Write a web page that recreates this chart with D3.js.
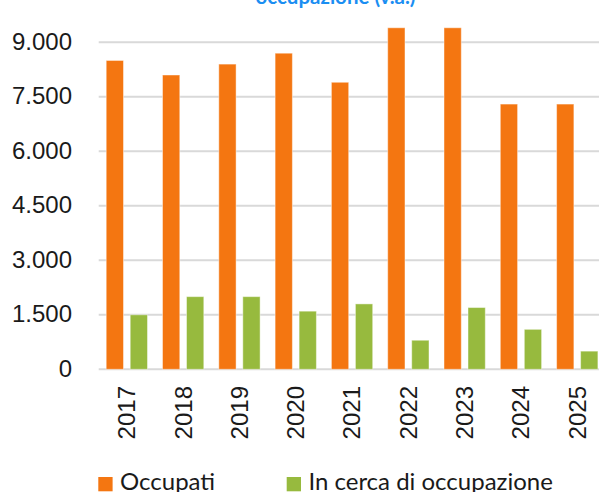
<!DOCTYPE html>
<html>
<head>
<meta charset="utf-8">
<script src="https://cdn.jsdelivr.net/npm/d3@7"></script>
<style>
  html, body { margin: 0; padding: 0; background: #fff; overflow: hidden; }
  svg { display: block; }
</style>
</head>
<body>
<svg id="chart" width="599" height="492"></svg>
<script>
const years = ["2017","2018","2019","2020","2021","2022","2023","2024","2025"];
const occupati = [8500, 8100, 8400, 8700, 7900, 9400, 9400, 7300, 7300];
const inCerca = [1500, 2000, 2000, 1600, 1800, 800, 1700, 1100, 500];
const seriesNames = ["Occupati", "In cerca di occupazione"];
const seriesColors = ["#F47611", "#97BA3E"];
const yTicks = [0, 1500, 3000, 4500, 6000, 7500, 9000];
const titleText = "occupazione (v.a.)";

const svg = d3.select("#chart");
const W = 599, H = 492;
const plotLeft = 98.7, step = 56.3;

const x0 = d3.scaleBand().domain(years).range([plotLeft, plotLeft + step * years.length]).padding(0);
const x1 = d3.scaleBand().domain([0, 1]).range([7.5, step - 7.5]).paddingInner(0.28).paddingOuter(0);
const y = d3.scaleLinear().domain([0, 9000]).range([369.3, 42.3]);

const fmt = v => d3.format(",")(v).replace(/,/g, ".");

// title (partially visible)
svg.append("text")
  .attr("x", 335.5).attr("y", 4)
  .attr("text-anchor", "middle")
  .attr("font-family", "Lato, 'Open Sans', sans-serif")
  .attr("font-weight", "bold")
  .attr("font-size", 20.5)
  .attr("fill", "#1b8ef2")
  .text(titleText);

// gridlines
svg.append("g").selectAll("line").data(yTicks).join("line")
  .attr("x1", plotLeft).attr("x2", W)
  .attr("y1", d => y(d)).attr("y2", d => y(d))
  .attr("stroke", "#d9d9d9").attr("stroke-width", 2);

// y axis labels
const yAxis = d3.axisLeft(y).tickValues(yTicks).tickFormat(fmt).tickSize(0).tickPadding(0);
const gy = svg.append("g").attr("transform", "translate(72,0)").call(yAxis);
gy.select(".domain").remove();
gy.selectAll("text")
  .attr("font-family", "'Liberation Sans', Arial, sans-serif")
  .attr("font-size", 24)
  .attr("fill", "#1a1a1a")
  .attr("dy", "0.28em");

// bars
const groups = svg.append("g").selectAll("g").data(years).join("g")
  .attr("transform", d => `translate(${x0(d)},0)`);
groups.selectAll("rect")
  .data((d, i) => [occupati[i], inCerca[i]].map((v, s) => ({ v, s })))
  .join("rect")
  .attr("x", d => x1(d.s))
  .attr("width", x1.bandwidth())
  .attr("y", d => y(d.v))
  .attr("height", d => y(0) - y(d.v))
  .attr("fill", d => seriesColors[d.s])
  .attr("stroke", "#fff").attr("stroke-opacity", 0.45).attr("stroke-width", 1);

// x axis labels (rotated)
const xAxis = d3.axisBottom(x0).tickSize(0).tickPadding(0);
const gx = svg.append("g").attr("transform", "translate(0,386)").call(xAxis);
gx.select(".domain").remove();
gx.selectAll("text")
  .attr("font-family", "'Liberation Sans', Arial, sans-serif")
  .attr("font-size", 24)
  .attr("fill", "#1a1a1a")
  .attr("transform", "rotate(-90)")
  .attr("text-anchor", "end")
  .attr("x", 0).attr("y", 0)
  .attr("dx", 0).attr("dy", "0.35em");

// legend
const legendX = [98.3, 286.7];
const leg = svg.append("g").selectAll("g").data(seriesNames).join("g")
  .attr("transform", (d, i) => `translate(${legendX[i]},0)`);
leg.append("rect").attr("x", 0).attr("y", 477).attr("width", 14.3).attr("height", 14.3)
  .attr("fill", (d, i) => seriesColors[i]);
leg.append("text").attr("x", 21.7).attr("y", 489.5)
  .attr("font-family", "Lato, 'Open Sans', sans-serif")
  .attr("font-size", 24)
  .attr("fill", "#1a1a1a")
  .text(d => d);
</script>
</body>
</html>
